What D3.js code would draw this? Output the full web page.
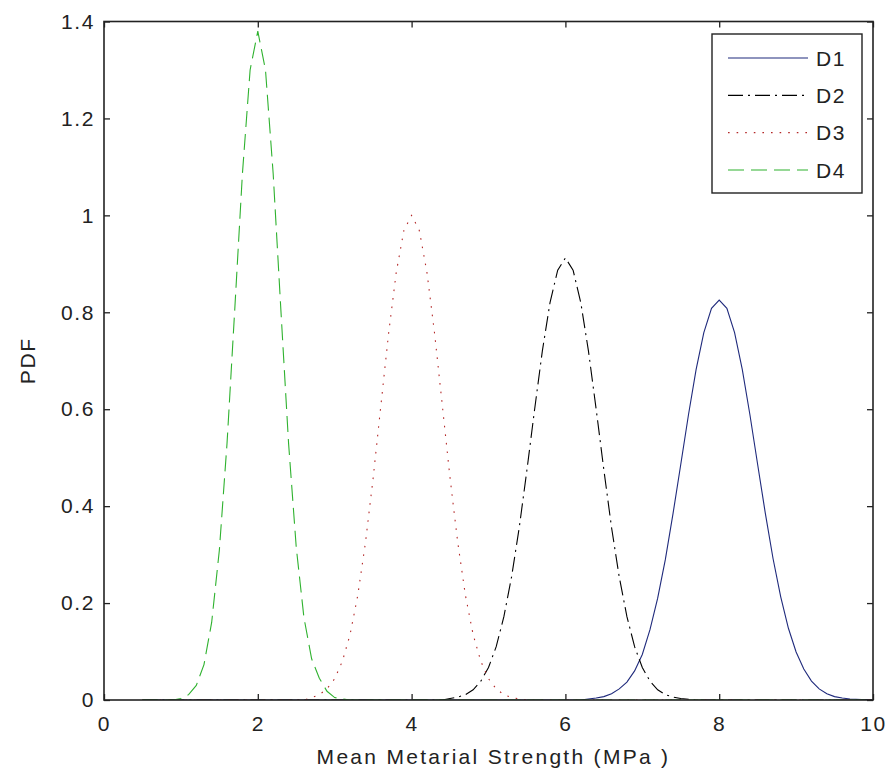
<!DOCTYPE html>
<html>
<head>
<meta charset="utf-8">
<script src="https://cdn.jsdelivr.net/npm/d3@7"></script>
<style>
  body { margin: 0; background: #fff; }
  text { font-family: "Liberation Sans", Arial, sans-serif; font-size: 21px; fill: #222; letter-spacing: 1.6px; }
</style>
</head>
<body>
<div id="chart"></div>
<script>
// values
const seriesNames = ['D1', 'D2', 'D3', 'D4']

const d1X = [0.5, 6.2, 6.3, 6.4, 6.5, 6.6, 6.7, 6.8, 6.9, 7.0, 7.1, 7.2, 7.3, 7.4, 7.5, 7.6, 7.7, 7.8, 7.9, 8.0,
    8.1, 8.2, 8.3, 8.4, 8.5, 8.6, 8.7, 8.8, 8.9, 9.0, 9.1, 9.2, 9.3, 9.4, 9.5, 9.6, 9.7, 10]
const d1Y = [0, 0, 0.002, 0.004, 0.007, 0.013, 0.023, 0.037, 0.06, 0.094, 0.145, 0.21, 0.29, 0.385, 0.486, 0.588, 0.682, 0.758, 0.808, 0.825,
    0.808, 0.758, 0.682, 0.588, 0.486, 0.385, 0.292, 0.213, 0.148, 0.099, 0.064, 0.039, 0.023, 0.013, 0.007, 0.004, 0.002, 0]

const d2X = [0.5, 4.4, 4.5, 4.6, 4.7, 4.8, 4.9, 5.0, 5.1, 5.2, 5.3, 5.4, 5.5, 5.6, 5.7, 5.8, 5.9, 6.0,
    6.1, 6.2, 6.3, 6.4, 6.5, 6.6, 6.7, 6.8, 6.9, 7.0, 7.1, 7.2, 7.3, 7.4, 7.5, 7.7, 10]
const d2Y = [0, 0, 0.003, 0.006, 0.011, 0.021, 0.039, 0.067, 0.11, 0.172, 0.254, 0.356, 0.475, 0.6, 0.72, 0.82, 0.887, 0.912,
    0.887, 0.82, 0.72, 0.6, 0.475, 0.356, 0.254, 0.172, 0.11, 0.067, 0.039, 0.021, 0.011, 0.006, 0.003, 0, 0]

const d3X = [0.5, 2.6, 2.7, 2.8, 2.9, 3.0, 3.1, 3.2, 3.3, 3.4, 3.5, 3.6, 3.7, 3.8, 3.9, 4.0,
    4.1, 4.2, 4.3, 4.4, 4.5, 4.6, 4.7, 4.8, 4.9, 5.0, 5.1, 5.2, 5.3, 5.5, 10]
const d3Y = [0, 0, 0.005, 0.011, 0.023, 0.044, 0.08, 0.135, 0.216, 0.325, 0.458, 0.607, 0.755, 0.882, 0.969, 1.0,
    0.969, 0.882, 0.755, 0.607, 0.458, 0.325, 0.216, 0.135, 0.08, 0.044, 0.023, 0.011, 0.005, 0, 0]

const d4X = [0.5, 0.9, 1.0, 1.1, 1.2, 1.3, 1.4, 1.5, 1.6, 1.7, 1.8, 1.9, 2.0,
    2.1, 2.2, 2.3, 2.4, 2.5, 2.6, 2.7, 2.8, 2.9, 3.0, 3.2, 10]
const d4Y = [0, 0, 0.003, 0.011, 0.03, 0.073, 0.16, 0.309, 0.53, 0.805, 1.086, 1.3, 1.38,
    1.3, 1.086, 0.805, 0.53, 0.315, 0.17, 0.085, 0.045, 0.018, 0.005, 0, 0]

const xTicks = [0, 2, 4, 6, 8, 10]
const yTicks = [0, 0.2, 0.4, 0.6, 0.8, 1, 1.2, 1.4]

const series = [
    { name: seriesNames[0], xs: d1X, ys: d1Y, color: '#1f2a7c', dash: null },
    { name: seriesNames[1], xs: d2X, ys: d2Y, color: '#000000', dash: '15,5,2,5' },
    { name: seriesNames[2], xs: d3X, ys: d3Y, color: '#b42828', dash: '1.6,7' },
    { name: seriesNames[3], xs: d4X, ys: d4Y, color: '#2fb22f', dash: '16,7' }
]

const width = 887
const height = 774
const margin = { top: 21.5, right: 14, bottom: 74, left: 104 }
const innerW = width - margin.left - margin.right
const innerH = height - margin.top - margin.bottom

const svg = d3.select('#chart')
    .append('svg')
    .attr('width', width)
    .attr('height', height)

const g = svg.append('g')
    .attr('transform', `translate(${margin.left},${margin.top})`)

const x = d3.scaleLinear().domain([0, 10]).range([0, innerW])
const y = d3.scaleLinear().domain([0, 1.4]).range([innerH, 0])

g.append('clipPath')
    .attr('id', 'clip')
    .append('rect')
    .attr('width', innerW)
    .attr('height', innerH)

const line = d3.line()
    .x(d => x(d[0]))
    .y(d => y(d[1]))

const plot = g.append('g').attr('clip-path', 'url(#clip)')

series.forEach(s => {
    plot.append('path')
        .datum(d3.zip(s.xs, s.ys))
        .attr('d', line)
        .attr('fill', 'none')
        .attr('stroke', s.color)
        .attr('stroke-width', 1.1)
        .attr('stroke-dasharray', s.dash)
})

// axes: ticks pointing inward, mirrored on top and right
const tickLen = 6

const bottomAxis = g.append('g')
    .attr('transform', `translate(0,${innerH})`)
    .call(d3.axisBottom(x).tickValues(xTicks).tickSize(-tickLen).tickPadding(tickLen + 10).tickFormat(d3.format('d')))

const leftAxis = g.append('g')
    .call(d3.axisLeft(y).tickValues(yTicks).tickSize(-tickLen).tickPadding(tickLen + 3).tickFormat(d => d === 0 || d === 1 ? d : d3.format('.1f')(d)))

const topAxis = g.append('g')
    .call(d3.axisTop(x).tickValues(xTicks).tickSize(-tickLen).tickFormat(''))

const rightAxis = g.append('g')
    .attr('transform', `translate(${innerW},0)`)
    .call(d3.axisRight(y).tickValues(yTicks).tickSize(-tickLen).tickFormat(''))

;[bottomAxis, leftAxis, topAxis, rightAxis].forEach(a => {
    a.select('.domain').remove()
    a.selectAll('line').attr('stroke', '#222').attr('stroke-width', 1.3)
    a.selectAll('text').attr('fill', '#222').style('font-size', '21px').style('font-family', '"Liberation Sans", Arial, sans-serif')
})

g.append('rect')
    .attr('width', innerW)
    .attr('height', innerH)
    .attr('fill', 'none')
    .attr('stroke', '#222')
    .attr('stroke-width', 1.6)

// axis titles
g.append('text')
    .attr('x', innerW / 2 + 5)
    .attr('y', innerH + 64)
    .attr('text-anchor', 'middle')
    .style('letter-spacing', '2.3px')
    .text('Mean Metarial Strength (MPa )')

g.append('text')
    .attr('transform', `translate(${28 - margin.left + 7},${innerH / 2}) rotate(-90)`)
    .attr('text-anchor', 'middle')
    .text('PDF')

// legend
const legend = svg.append('g')
    .attr('transform', 'translate(712,34)')

legend.append('rect')
    .attr('width', 150)
    .attr('height', 159)
    .attr('fill', '#fff')
    .attr('stroke', '#222')
    .attr('stroke-width', 1.4)

const legendY = d3.scalePoint().domain(seriesNames).range([24, 136])

series.forEach(s => {
    const row = legend.append('g')
        .attr('transform', `translate(0,${legendY(s.name)})`)

    row.append('line')
        .attr('x1', 16)
        .attr('x2', 96)
        .attr('stroke', s.color)
        .attr('stroke-width', 1.1)
        .attr('stroke-dasharray', s.dash)

    row.append('text')
        .attr('x', 104)
        .attr('dy', '0.36em')
        .text(s.name)
})
</script>
</body>
</html>
